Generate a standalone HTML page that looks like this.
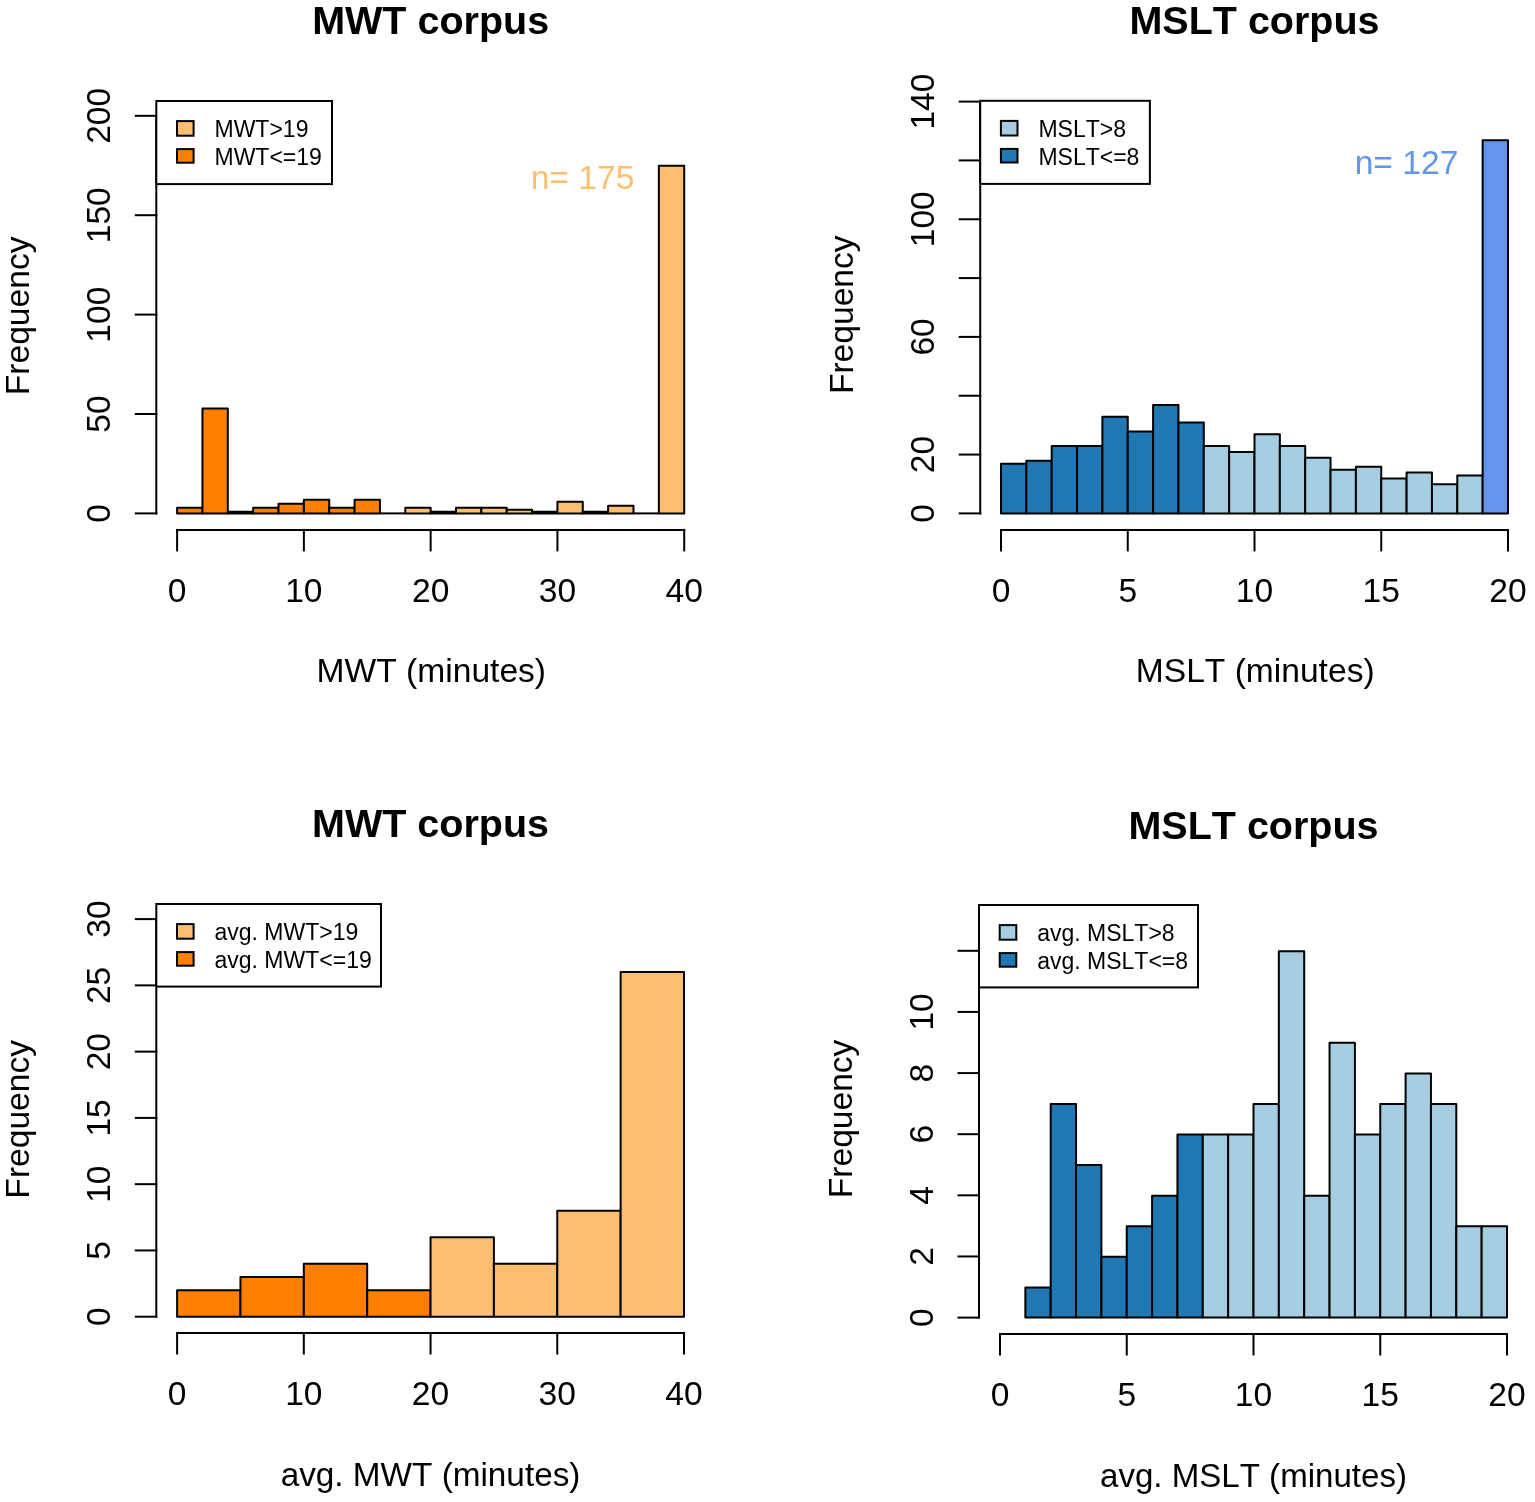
<!DOCTYPE html>
<html lang="en"><head><meta charset="utf-8"><title>MWT / MSLT corpus histograms</title>
<style>
html,body{margin:0;padding:0;background:#fff;}
body{width:1535px;height:1502px;overflow:hidden;}
svg{display:block;font-family:"Liberation Sans",Arial,Helvetica,sans-serif;fill:#000;font-kerning:none;}
.ax line{stroke:#000;stroke-width:2.0;stroke-linecap:square;}
.bars rect,.bars path{stroke:#000;stroke-width:2.0;stroke-linejoin:round;}
.leg{fill:#fff;stroke:#000;stroke-width:2.0;}
.sw{stroke:#000;stroke-width:2.0;}
</style></head><body>
<svg width="1535" height="1502" viewBox="0 0 1535 1502">
<rect x="0" y="0" width="1535" height="1502" fill="#fff"/>
<g class="bars">
<rect x="177.1" y="507.79" width="25.35" height="5.61" fill="#FF7F00"/>
<rect x="202.45" y="408.39" width="25.36" height="105.01" fill="#FF7F00"/>
<rect x="227.81" y="511.76" width="25.35" height="1.64" fill="#FF7F00"/>
<rect x="253.16" y="507.79" width="25.35" height="5.61" fill="#FF7F00"/>
<rect x="278.52" y="503.81" width="25.36" height="9.59" fill="#FF7F00"/>
<rect x="303.88" y="499.83" width="25.36" height="13.57" fill="#FF7F00"/>
<rect x="329.23" y="507.79" width="25.36" height="5.61" fill="#FF7F00"/>
<rect x="354.59" y="499.83" width="25.35" height="13.57" fill="#FF7F00"/>
<path d="M379.94 513.4H405.29" fill="none"/>
<rect x="405.29" y="507.79" width="25.36" height="5.61" fill="#FDBF6F"/>
<rect x="430.65" y="511.76" width="25.36" height="1.64" fill="#FDBF6F"/>
<rect x="456" y="507.79" width="25.36" height="5.61" fill="#FDBF6F"/>
<rect x="481.36" y="507.79" width="25.36" height="5.61" fill="#FDBF6F"/>
<rect x="506.72" y="509.77" width="25.36" height="3.63" fill="#FDBF6F"/>
<rect x="532.07" y="511.76" width="25.35" height="1.64" fill="#FDBF6F"/>
<rect x="557.42" y="501.82" width="25.36" height="11.58" fill="#FDBF6F"/>
<rect x="582.78" y="511.76" width="25.36" height="1.64" fill="#FDBF6F"/>
<rect x="608.13" y="505.8" width="25.36" height="7.6" fill="#FDBF6F"/>
<path d="M633.49 513.4H658.85" fill="none"/>
<rect x="658.85" y="165.85" width="25.36" height="347.55" fill="#FDBF6F"/>
</g>
<g class="ax">
<line x1="177.1" y1="529.9" x2="684.2" y2="529.9"/>
<line x1="177.1" y1="529.9" x2="177.1" y2="550.4"/>
<line x1="303.88" y1="529.9" x2="303.88" y2="550.4"/>
<line x1="430.65" y1="529.9" x2="430.65" y2="550.4"/>
<line x1="557.42" y1="529.9" x2="557.42" y2="550.4"/>
<line x1="684.2" y1="529.9" x2="684.2" y2="550.4"/>
<line x1="156.3" y1="513.4" x2="156.3" y2="115.8"/>
<line x1="135.8" y1="513.4" x2="156.3" y2="513.4"/>
<line x1="135.8" y1="414" x2="156.3" y2="414"/>
<line x1="135.8" y1="314.6" x2="156.3" y2="314.6"/>
<line x1="135.8" y1="215.2" x2="156.3" y2="215.2"/>
<line x1="135.8" y1="115.8" x2="156.3" y2="115.8"/>
</g>
<text x="177.1" y="601.6" font-size="33.6" text-anchor="middle">0</text>
<text x="303.88" y="601.6" font-size="33.6" text-anchor="middle">10</text>
<text x="430.65" y="601.6" font-size="33.6" text-anchor="middle">20</text>
<text x="557.42" y="601.6" font-size="33.6" text-anchor="middle">30</text>
<text x="684.2" y="601.6" font-size="33.6" text-anchor="middle">40</text>
<text x="110.4" y="513.4" font-size="33.6" text-anchor="middle" transform="rotate(-90 110.4 513.4)">0</text>
<text x="110.4" y="414" font-size="33.6" text-anchor="middle" transform="rotate(-90 110.4 414)">50</text>
<text x="110.4" y="314.6" font-size="33.6" text-anchor="middle" transform="rotate(-90 110.4 314.6)">100</text>
<text x="110.4" y="215.2" font-size="33.6" text-anchor="middle" transform="rotate(-90 110.4 215.2)">150</text>
<text x="110.4" y="115.8" font-size="33.6" text-anchor="middle" transform="rotate(-90 110.4 115.8)">200</text>
<text x="431.35" y="682.4" font-size="33.6" text-anchor="middle">MWT (minutes)</text>
<text x="29.5" y="315.85" font-size="33.6" text-anchor="middle" transform="rotate(-90 29.5 315.85)">Frequency</text>
<text x="430.65" y="33.9" font-size="39.5" text-anchor="middle" font-weight="bold">MWT corpus</text>
<rect class="leg" x="156.3" y="101" width="175.7" height="83.1"/>
<rect class="sw" x="177" y="121.1" width="16.6" height="14.6" fill="#FDBF6F"/>
<text x="214.5" y="137.4" font-size="23" text-anchor="start">MWT&gt;19</text>
<rect class="sw" x="177" y="149.1" width="16.6" height="13.6" fill="#FF7F00"/>
<text x="214.5" y="165.4" font-size="23" text-anchor="start">MWT&lt;=19</text>
<text x="582.5" y="189.4" font-size="33.6" text-anchor="middle" fill="#FDBF6F">n= 175</text>
<g class="bars">
<rect x="1001" y="463.75" width="25.35" height="49.65" fill="#1F78B4"/>
<rect x="1026.35" y="460.8" width="25.35" height="52.6" fill="#1F78B4"/>
<rect x="1051.7" y="446.1" width="25.35" height="67.3" fill="#1F78B4"/>
<rect x="1077.05" y="446.1" width="25.35" height="67.3" fill="#1F78B4"/>
<rect x="1102.4" y="416.68" width="25.35" height="96.72" fill="#1F78B4"/>
<rect x="1127.75" y="431.39" width="25.35" height="82.01" fill="#1F78B4"/>
<rect x="1153.1" y="404.92" width="25.35" height="108.48" fill="#1F78B4"/>
<rect x="1178.45" y="422.57" width="25.35" height="90.83" fill="#1F78B4"/>
<rect x="1203.8" y="446.1" width="25.35" height="67.3" fill="#A6CEE3"/>
<rect x="1229.15" y="451.98" width="25.35" height="61.42" fill="#A6CEE3"/>
<rect x="1254.5" y="434.33" width="25.35" height="79.07" fill="#A6CEE3"/>
<rect x="1279.85" y="446.1" width="25.35" height="67.3" fill="#A6CEE3"/>
<rect x="1305.2" y="457.86" width="25.35" height="55.54" fill="#A6CEE3"/>
<rect x="1330.55" y="469.63" width="25.35" height="43.77" fill="#A6CEE3"/>
<rect x="1355.9" y="466.69" width="25.35" height="46.71" fill="#A6CEE3"/>
<rect x="1381.25" y="478.45" width="25.35" height="34.95" fill="#A6CEE3"/>
<rect x="1406.6" y="472.57" width="25.35" height="40.83" fill="#A6CEE3"/>
<rect x="1431.95" y="484.34" width="25.35" height="29.06" fill="#A6CEE3"/>
<rect x="1457.3" y="475.51" width="25.35" height="37.89" fill="#A6CEE3"/>
<rect x="1482.65" y="140.19" width="25.35" height="373.21" fill="#6495ED"/>
</g>
<g class="ax">
<line x1="1001" y1="529.9" x2="1508" y2="529.9"/>
<line x1="1001" y1="529.9" x2="1001" y2="550.4"/>
<line x1="1127.75" y1="529.9" x2="1127.75" y2="550.4"/>
<line x1="1254.5" y1="529.9" x2="1254.5" y2="550.4"/>
<line x1="1381.25" y1="529.9" x2="1381.25" y2="550.4"/>
<line x1="1508" y1="529.9" x2="1508" y2="550.4"/>
<line x1="980.2" y1="513.4" x2="980.2" y2="101.6"/>
<line x1="959.7" y1="513.4" x2="980.2" y2="513.4"/>
<line x1="959.7" y1="454.57" x2="980.2" y2="454.57"/>
<line x1="959.7" y1="395.74" x2="980.2" y2="395.74"/>
<line x1="959.7" y1="336.91" x2="980.2" y2="336.91"/>
<line x1="959.7" y1="278.09" x2="980.2" y2="278.09"/>
<line x1="959.7" y1="219.26" x2="980.2" y2="219.26"/>
<line x1="959.7" y1="160.43" x2="980.2" y2="160.43"/>
<line x1="959.7" y1="101.6" x2="980.2" y2="101.6"/>
</g>
<text x="1001" y="601.6" font-size="33.6" text-anchor="middle">0</text>
<text x="1127.75" y="601.6" font-size="33.6" text-anchor="middle">5</text>
<text x="1254.5" y="601.6" font-size="33.6" text-anchor="middle">10</text>
<text x="1381.25" y="601.6" font-size="33.6" text-anchor="middle">15</text>
<text x="1508" y="601.6" font-size="33.6" text-anchor="middle">20</text>
<text x="934.3" y="513.4" font-size="33.6" text-anchor="middle" transform="rotate(-90 934.3 513.4)">0</text>
<text x="934.3" y="454.57" font-size="33.6" text-anchor="middle" transform="rotate(-90 934.3 454.57)">20</text>
<text x="934.3" y="336.91" font-size="33.6" text-anchor="middle" transform="rotate(-90 934.3 336.91)">60</text>
<text x="934.3" y="219.26" font-size="33.6" text-anchor="middle" transform="rotate(-90 934.3 219.26)">100</text>
<text x="934.3" y="101.6" font-size="33.6" text-anchor="middle" transform="rotate(-90 934.3 101.6)">140</text>
<text x="1255.2" y="682.2" font-size="33.6" text-anchor="middle">MSLT (minutes)</text>
<text x="853.4" y="314.75" font-size="33.6" text-anchor="middle" transform="rotate(-90 853.4 314.75)">Frequency</text>
<text x="1254.5" y="33.9" font-size="39.5" text-anchor="middle" font-weight="bold">MSLT corpus</text>
<rect class="leg" x="980.2" y="100.8" width="169.7" height="83.1"/>
<rect class="sw" x="1000.9" y="120.9" width="16.6" height="14.6" fill="#A6CEE3"/>
<text x="1038.4" y="137.2" font-size="23" text-anchor="start">MSLT&gt;8</text>
<rect class="sw" x="1000.9" y="148.9" width="16.6" height="13.6" fill="#1F78B4"/>
<text x="1038.4" y="165.2" font-size="23" text-anchor="start">MSLT&lt;=8</text>
<text x="1406.5" y="174" font-size="33.6" text-anchor="middle" fill="#6495ED">n= 127</text>
<g class="bars">
<rect x="177.1" y="1290.19" width="63.36" height="26.51" fill="#FF7F00"/>
<rect x="240.46" y="1276.94" width="63.36" height="39.76" fill="#FF7F00"/>
<rect x="303.82" y="1263.69" width="63.36" height="53.01" fill="#FF7F00"/>
<rect x="367.19" y="1290.19" width="63.36" height="26.51" fill="#FF7F00"/>
<rect x="430.55" y="1237.18" width="63.36" height="79.52" fill="#FDBF6F"/>
<rect x="493.91" y="1263.69" width="63.36" height="53.01" fill="#FDBF6F"/>
<rect x="557.27" y="1210.67" width="63.36" height="106.03" fill="#FDBF6F"/>
<rect x="620.64" y="972.11" width="63.36" height="344.59" fill="#FDBF6F"/>
</g>
<g class="ax">
<line x1="177.1" y1="1333" x2="684" y2="1333"/>
<line x1="177.1" y1="1333" x2="177.1" y2="1353.5"/>
<line x1="303.82" y1="1333" x2="303.82" y2="1353.5"/>
<line x1="430.55" y1="1333" x2="430.55" y2="1353.5"/>
<line x1="557.27" y1="1333" x2="557.27" y2="1353.5"/>
<line x1="684" y1="1333" x2="684" y2="1353.5"/>
<line x1="156.3" y1="1316.7" x2="156.3" y2="919.1"/>
<line x1="135.8" y1="1316.7" x2="156.3" y2="1316.7"/>
<line x1="135.8" y1="1250.43" x2="156.3" y2="1250.43"/>
<line x1="135.8" y1="1184.17" x2="156.3" y2="1184.17"/>
<line x1="135.8" y1="1117.9" x2="156.3" y2="1117.9"/>
<line x1="135.8" y1="1051.63" x2="156.3" y2="1051.63"/>
<line x1="135.8" y1="985.37" x2="156.3" y2="985.37"/>
<line x1="135.8" y1="919.1" x2="156.3" y2="919.1"/>
</g>
<text x="177.1" y="1404.8" font-size="33.6" text-anchor="middle">0</text>
<text x="303.82" y="1404.8" font-size="33.6" text-anchor="middle">10</text>
<text x="430.55" y="1404.8" font-size="33.6" text-anchor="middle">20</text>
<text x="557.27" y="1404.8" font-size="33.6" text-anchor="middle">30</text>
<text x="684" y="1404.8" font-size="33.6" text-anchor="middle">40</text>
<text x="110.4" y="1316.7" font-size="33.6" text-anchor="middle" transform="rotate(-90 110.4 1316.7)">0</text>
<text x="110.4" y="1250.43" font-size="33.6" text-anchor="middle" transform="rotate(-90 110.4 1250.43)">5</text>
<text x="110.4" y="1184.17" font-size="33.6" text-anchor="middle" transform="rotate(-90 110.4 1184.17)">10</text>
<text x="110.4" y="1117.9" font-size="33.6" text-anchor="middle" transform="rotate(-90 110.4 1117.9)">15</text>
<text x="110.4" y="1051.63" font-size="33.6" text-anchor="middle" transform="rotate(-90 110.4 1051.63)">20</text>
<text x="110.4" y="985.37" font-size="33.6" text-anchor="middle" transform="rotate(-90 110.4 985.37)">25</text>
<text x="110.4" y="919.1" font-size="33.6" text-anchor="middle" transform="rotate(-90 110.4 919.1)">30</text>
<text x="430.55" y="1485.8" font-size="33.3" text-anchor="middle">avg. MWT (minutes)</text>
<text x="29.5" y="1119.3" font-size="33.6" text-anchor="middle" transform="rotate(-90 29.5 1119.3)">Frequency</text>
<text x="430.55" y="837" font-size="39.5" text-anchor="middle" font-weight="bold">MWT corpus</text>
<rect class="leg" x="156.3" y="904" width="224.7" height="82.6"/>
<rect class="sw" x="177" y="924.1" width="16.6" height="14.6" fill="#FDBF6F"/>
<text x="214.5" y="940.4" font-size="23" text-anchor="start">avg. MWT&gt;19</text>
<rect class="sw" x="177" y="952.1" width="16.6" height="13.6" fill="#FF7F00"/>
<text x="214.5" y="968.4" font-size="23" text-anchor="start">avg. MWT&lt;=19</text>
<g class="bars">
<rect x="1025.35" y="1287.38" width="25.35" height="30.22" fill="#1F78B4"/>
<rect x="1050.7" y="1103.98" width="25.35" height="213.62" fill="#1F78B4"/>
<rect x="1076.05" y="1165.12" width="25.35" height="152.48" fill="#1F78B4"/>
<rect x="1101.4" y="1256.82" width="25.35" height="60.78" fill="#1F78B4"/>
<rect x="1126.75" y="1226.25" width="25.35" height="91.35" fill="#1F78B4"/>
<rect x="1152.1" y="1195.68" width="25.35" height="121.92" fill="#1F78B4"/>
<rect x="1177.45" y="1134.55" width="25.35" height="183.05" fill="#1F78B4"/>
<rect x="1202.8" y="1134.55" width="25.35" height="183.05" fill="#A6CEE3"/>
<rect x="1228.15" y="1134.55" width="25.35" height="183.05" fill="#A6CEE3"/>
<rect x="1253.5" y="1103.98" width="25.35" height="213.62" fill="#A6CEE3"/>
<rect x="1278.85" y="951.15" width="25.35" height="366.45" fill="#A6CEE3"/>
<rect x="1304.2" y="1195.68" width="25.35" height="121.92" fill="#A6CEE3"/>
<rect x="1329.55" y="1042.85" width="25.35" height="274.75" fill="#A6CEE3"/>
<rect x="1354.9" y="1134.55" width="25.35" height="183.05" fill="#A6CEE3"/>
<rect x="1380.25" y="1103.98" width="25.35" height="213.62" fill="#A6CEE3"/>
<rect x="1405.6" y="1073.42" width="25.35" height="244.18" fill="#A6CEE3"/>
<rect x="1430.95" y="1103.98" width="25.35" height="213.62" fill="#A6CEE3"/>
<rect x="1456.3" y="1226.25" width="25.35" height="91.35" fill="#A6CEE3"/>
<rect x="1481.65" y="1226.25" width="25.35" height="91.35" fill="#A6CEE3"/>
</g>
<g class="ax">
<line x1="1000" y1="1334" x2="1507" y2="1334"/>
<line x1="1000" y1="1334" x2="1000" y2="1354.5"/>
<line x1="1126.75" y1="1334" x2="1126.75" y2="1354.5"/>
<line x1="1253.5" y1="1334" x2="1253.5" y2="1354.5"/>
<line x1="1380.25" y1="1334" x2="1380.25" y2="1354.5"/>
<line x1="1507" y1="1334" x2="1507" y2="1354.5"/>
<line x1="979" y1="1317.6" x2="979" y2="950.8"/>
<line x1="958.5" y1="1317.6" x2="979" y2="1317.6"/>
<line x1="958.5" y1="1256.47" x2="979" y2="1256.47"/>
<line x1="958.5" y1="1195.33" x2="979" y2="1195.33"/>
<line x1="958.5" y1="1134.2" x2="979" y2="1134.2"/>
<line x1="958.5" y1="1073.07" x2="979" y2="1073.07"/>
<line x1="958.5" y1="1011.93" x2="979" y2="1011.93"/>
<line x1="958.5" y1="950.8" x2="979" y2="950.8"/>
</g>
<text x="1000" y="1405.8" font-size="33.6" text-anchor="middle">0</text>
<text x="1126.75" y="1405.8" font-size="33.6" text-anchor="middle">5</text>
<text x="1253.5" y="1405.8" font-size="33.6" text-anchor="middle">10</text>
<text x="1380.25" y="1405.8" font-size="33.6" text-anchor="middle">15</text>
<text x="1507" y="1405.8" font-size="33.6" text-anchor="middle">20</text>
<text x="933.3" y="1317.6" font-size="33.6" text-anchor="middle" transform="rotate(-90 933.3 1317.6)">0</text>
<text x="933.3" y="1256.47" font-size="33.6" text-anchor="middle" transform="rotate(-90 933.3 1256.47)">2</text>
<text x="933.3" y="1195.33" font-size="33.6" text-anchor="middle" transform="rotate(-90 933.3 1195.33)">4</text>
<text x="933.3" y="1134.2" font-size="33.6" text-anchor="middle" transform="rotate(-90 933.3 1134.2)">6</text>
<text x="933.3" y="1073.07" font-size="33.6" text-anchor="middle" transform="rotate(-90 933.3 1073.07)">8</text>
<text x="933.3" y="1011.93" font-size="33.6" text-anchor="middle" transform="rotate(-90 933.3 1011.93)">10</text>
<text x="1253.5" y="1486.5" font-size="33.1" text-anchor="middle">avg. MSLT (minutes)</text>
<text x="852.4" y="1118.9" font-size="33.6" text-anchor="middle" transform="rotate(-90 852.4 1118.9)">Frequency</text>
<text x="1253.5" y="838.5" font-size="39.5" text-anchor="middle" font-weight="bold">MSLT corpus</text>
<rect class="leg" x="979" y="905" width="219" height="82.4"/>
<rect class="sw" x="999.7" y="925.1" width="16.6" height="14.6" fill="#A6CEE3"/>
<text x="1037.2" y="941.4" font-size="23" text-anchor="start">avg. MSLT&gt;8</text>
<rect class="sw" x="999.7" y="953.1" width="16.6" height="13.6" fill="#1F78B4"/>
<text x="1037.2" y="969.4" font-size="23" text-anchor="start">avg. MSLT&lt;=8</text>
</svg>
</body></html>
